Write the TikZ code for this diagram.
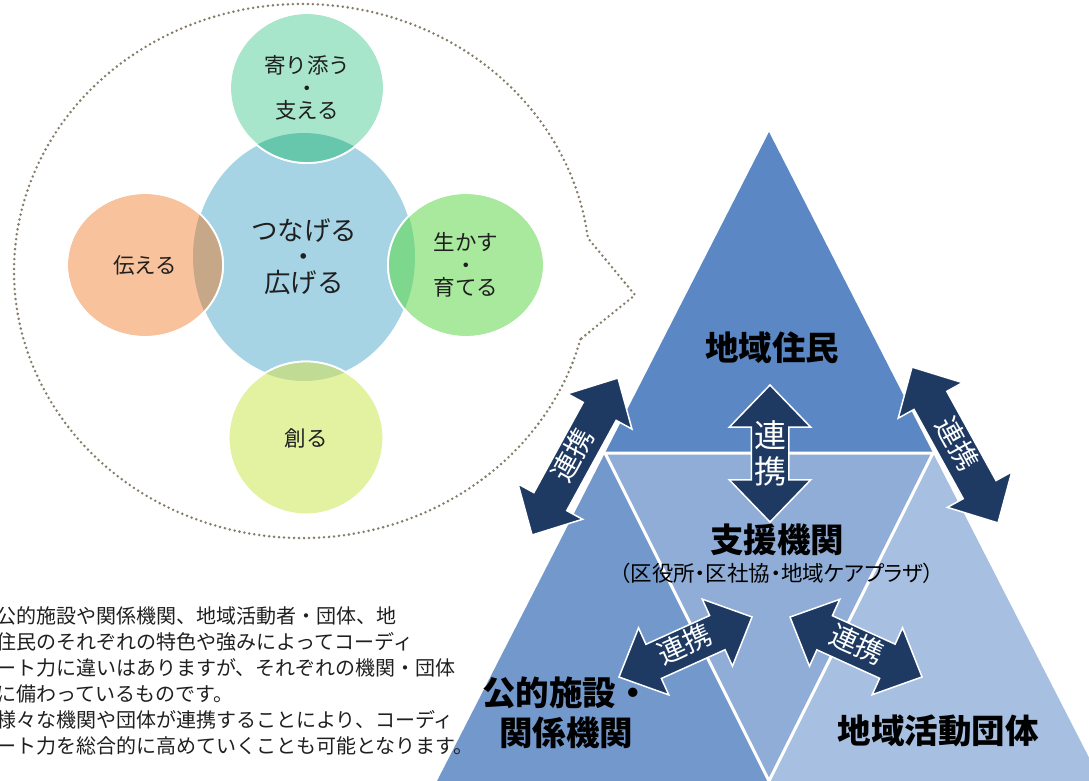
\documentclass[tikz,border=0pt]{standalone}
\usepackage{fontspec}
\setmainfont{Noto Sans CJK JP}
\usetikzlibrary{shapes.geometric,shapes.arrows}

\definecolor{hubblue}{HTML}{A6D4E4}
\definecolor{caregreen}{HTML}{A8E6CC}
\definecolor{tellpeach}{HTML}{F8C29C}
\definecolor{growgreen}{HTML}{A8E99D}
\definecolor{makelime}{HTML}{E3F2A1}
\definecolor{carelens}{HTML}{66C7AC}
\definecolor{telllens}{HTML}{C6A787}
\definecolor{growlens}{HTML}{7DD88D}
\definecolor{makelens}{HTML}{C0DB93}
\definecolor{topblue}{HTML}{5B88C4}
\definecolor{leftblue}{HTML}{7399CC}
\definecolor{midblue}{HTML}{8FADD6}
\definecolor{rightblue}{HTML}{A7C0E1}
\definecolor{linknavy}{HTML}{1E3A62}
\definecolor{dotgray}{HTML}{857D68}

\begin{document}
\begin{tikzpicture}[x=1pt, y=-1pt,
  ring/.style={ellipse, draw=white, line width=1.8pt, inner sep=0pt, align=center,
    text=black!88, font=\fontsize{21.5}{22.5}\selectfont},
  link/.style={double arrow, fill=linknavy, draw=white, line width=1.5pt, text=white,
    double arrow head extend=18pt, double arrow tip angle=88, inner xsep=5pt, inner ysep=4.5pt,
    text height=21pt, text depth=6pt, minimum width=36pt, font=\fontsize{28}{28}\selectfont},
  tag/.style={font=\fontsize{33.5}{40}\selectfont\bfseries, align=center, inner sep=0pt}]

  \useasboundingbox (0,0) rectangle (1089,781);

  % Speech bubble
  \draw[dotgray, line width=2.8pt, line cap=round, dash pattern=on 0pt off 5pt]
    (580.5,339.2) arc[start angle=14.8, end angle=352.9, x radius=288, y radius=267]
    -- (635,295) -- cycle;

  % Circles
  \node[ring, fill=hubblue, minimum width=222pt, minimum height=248pt,
    font=\fontsize{26.5}{26}\selectfont] (hub) at (304,257) {つなげる\\・\\広げる};
  \node[ring, fill=caregreen, minimum width=154pt, minimum height=150pt] (care) at (307,88) {寄り添う\\・\\支える};
  \node[ring, fill=tellpeach, minimum width=156pt, minimum height=144pt] (tell) at (145,265) {伝える};
  \node[ring, fill=growgreen, minimum width=156pt, minimum height=144pt] (grow) at (466,265) {生かす\\・\\育てる};
  \node[ring, fill=makelime, minimum width=155pt, minimum height=153pt] (make) at (306,438) {創る};

  % Overlaps
  \begin{scope}
    \clip (hub.center) ellipse [x radius=111, y radius=124];
    \fill[carelens] (care.center) ellipse [x radius=77, y radius=75];
    \fill[telllens] (tell.center) ellipse [x radius=78, y radius=72];
    \fill[growlens] (grow.center) ellipse [x radius=78, y radius=72];
    \fill[makelens] (make.center) ellipse [x radius=77.5, y radius=76.5];
  \end{scope}
  \foreach \n/\rx/\ry in {care/77/75, tell/78/72, grow/78/72, make/77.5/76.5}
    \draw[white, line width=1.8pt] (\n.center) ellipse [x radius=\rx, y radius=\ry];

  % Triangles
  \fill[topblue] (769,132) -- (605,453) -- (933,453) -- cycle;
  \fill[leftblue] (605,453) -- (437,781) -- (769,781) -- cycle;
  \fill[midblue] (605,453) -- (933,453) -- (769,781) -- cycle;
  \fill[rightblue] (933,453) -- (769,781) -- (1101,781) -- cycle;
  \draw[white, line width=3pt] (605,453) -- (933,453) -- (769,781) -- cycle;

  \node[tag] (jumin) at (772,348) {地域住民};
  \node[tag] (shien) at (777,540) {支援機関};
  \node[font=\fontsize{21.5}{21.5}\selectfont\addfontfeatures{RawFeature=+palt}, inner sep=0pt]
    (shiennote) at (777,573) {（区役所・区社協・地域ケアプラザ）};
  \node[tag] (kokyo) at (566,713) {公的施設・\\関係機関};
  \node[tag] (katsudo) at (938,731) {地域活動団体};

  % Links
  \node[link, rotate=61.3, minimum height=179pt] (linkL) at (575,456.5) {連携};
  \node[link, rotate=-61.1, minimum height=178pt] (linkR) at (955,445) {連携};
  \node[link, rotate=24.3, minimum height=146pt] (linkBL) at (685.5,647) {連携};
  \node[link, rotate=-24.4, minimum height=145pt] (linkBR) at (856,647) {連携};
  \node[link, rotate=90, minimum height=137pt, double arrow head extend=22pt] (linkC) at (770,453.5) {};
  \node[text=white, font=\fontsize{32}{36}\selectfont, align=center] (linkCtext) at (linkC) {連\\携};

  % Note
  \node[anchor=north west, align=left, inner sep=0pt, text=black!88,
    font=\fontsize{20}{26}\selectfont] (note) at (-4,606)
    {公的施設や関係機関、地域活動者・団体、地\\
     住民のそれぞれの特色や強みによってコーディ\\
     ート力に違いはありますが、それぞれの機関・団体\\
     に備わっているものです。\\
     様々な機関や団体が連携することにより、コーディ\\
     ート力を総合的に高めていくことも可能となります。};
\end{tikzpicture}
\end{document}
